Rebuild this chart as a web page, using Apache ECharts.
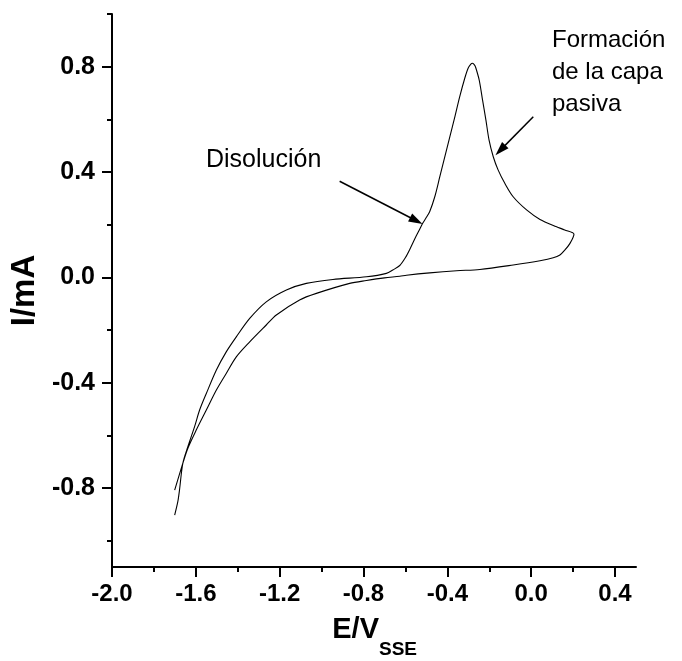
<!DOCTYPE html>
<html>
<head>
<meta charset="utf-8">
<script src="https://cdn.jsdelivr.net/npm/echarts@6/dist/echarts.min.js"></script>
<style>
html,body{margin:0;padding:0;background:#fff;}
#chart{width:682px;height:661px;}
</style>
</head>
<body>
<div id="chart"></div>
<script>
// Forward (anodic) sweep: E (V vs SSE) and I (mA)
const forwardE = [-1.701,-1.686,-1.678,-1.662,-1.638,-1.606,-1.582,-1.550,-1.502,-1.455,-1.407,-1.343,-1.264,-1.168,-1.073,-0.946,-0.786,-0.691,-0.660,-0.627,-0.600,-0.580,-0.550,-0.532,-0.517,-0.500,-0.484,-0.460,-0.436,-0.412,-0.388,-0.364,-0.341,-0.317,-0.301,-0.288,-0.280,-0.270,-0.264,-0.248,-0.232,-0.216,-0.201,-0.181,-0.158,-0.126,-0.086,-0.022,0.042,0.121,0.160,0.204];
const forwardI = [-0.903,-0.852,-0.808,-0.706,-0.643,-0.567,-0.504,-0.441,-0.352,-0.283,-0.226,-0.156,-0.093,-0.048,-0.023,-0.008,0.002,0.015,0.028,0.045,0.075,0.105,0.155,0.183,0.206,0.228,0.250,0.306,0.382,0.458,0.534,0.610,0.686,0.756,0.794,0.810,0.813,0.806,0.795,0.749,0.673,0.597,0.521,0.458,0.408,0.357,0.306,0.256,0.220,0.192,0.180,0.164];
// Reverse (cathodic) sweep
const reverseE = [0.185,0.161,0.137,0.105,0.042,-0.086,-0.245,-0.356,-0.484,-0.595,-0.627,-0.700,-0.786,-0.866,-1.025,-1.105,-1.216,-1.264,-1.343,-1.407,-1.455,-1.502,-1.550,-1.598,-1.638,-1.662,-1.701];
const reverseI = [0.129,0.104,0.085,0.074,0.063,0.047,0.030,0.025,0.017,0.008,0.004,-0.002,-0.012,-0.023,-0.061,-0.086,-0.143,-0.181,-0.245,-0.302,-0.365,-0.428,-0.504,-0.580,-0.649,-0.706,-0.808];

const xMajorTicks = [-2.0,-1.6,-1.2,-0.8,-0.4,0.0,0.4];
const xMinorTicks = [-1.8,-1.4,-1.0,-0.6,-0.2,0.2];
const yMajorTicks = [-0.8,-0.4,0.0,0.4,0.8];
const yMinorTicks = [-1.0,-0.6,-0.2,0.2,0.6,1.0];

const arrowDisolucion = [[-0.914,0.365],[-0.548,0.215]];
const arrowPasiva = [[0.010,0.610],[-0.147,0.483]];

const FONT = '"Liberation Sans", Arial, sans-serif';

const curve = [];
forwardE.forEach((e,i)=>curve.push([e, forwardI[i]]));
reverseE.forEach((e,i)=>curve.push([e, reverseI[i]]));

const chart = echarts.init(document.getElementById('chart'), null, {renderer:'canvas'});
const fmt = v => (Math.abs(v) < 1e-9 ? 0 : v).toFixed(1);

const axisCommonX = {type:'value', min:-2.0, max:0.5, gridIndex:0, position:'bottom', splitLine:{show:false}};
const axisCommonY = {type:'value', min:-1.1, max:1.0, gridIndex:0, position:'left', splitLine:{show:false}};

chart.setOption({
  animation:false,
  backgroundColor:'#fff',
  grid:{left:112, top:14, width:524, height:553, containLabel:false},
  xAxis:[
    Object.assign({}, axisCommonX, {
      axisLine:{show:true, onZero:false, lineStyle:{color:'#000', width:2}},
      axisTick:{show:true, inside:false, length:10, lineStyle:{color:'#000', width:2}, customValues:xMajorTicks},
      axisLabel:{show:true, margin:15, color:'#000', fontFamily:FONT, fontWeight:'bold', fontSize:24, customValues:xMajorTicks, formatter:fmt}
    }),
    Object.assign({}, axisCommonX, {
      axisLine:{show:false, onZero:false},
      axisTick:{show:true, inside:false, length:5, lineStyle:{color:'#000', width:2}, customValues:xMinorTicks},
      axisLabel:{show:false}
    })
  ],
  yAxis:[
    Object.assign({}, axisCommonY, {
      axisLine:{show:true, onZero:false, lineStyle:{color:'#000', width:2}},
      axisTick:{show:true, inside:false, length:10, lineStyle:{color:'#000', width:2}, customValues:yMajorTicks},
      axisLabel:{show:true, margin:17, color:'#000', fontFamily:FONT, fontWeight:'bold', fontSize:25, customValues:yMajorTicks, formatter:fmt},
      name:'I/mA',
      nameLocation:'middle',
      nameRotate:90,
      nameGap:66,
      nameTextStyle:{color:'#000', fontFamily:FONT, fontWeight:'bold', fontSize:33}
    }),
    Object.assign({}, axisCommonY, {
      axisLine:{show:false, onZero:false},
      axisTick:{show:true, inside:false, length:5, lineStyle:{color:'#000', width:2}, customValues:yMinorTicks},
      axisLabel:{show:false}
    })
  ],
  series:[{
    type:'line',
    xAxisIndex:0, yAxisIndex:0,
    data:curve,
    showSymbol:false,
    symbol:'none',
    smooth:0.3,
    lineStyle:{color:'#000', width:1.1},
    markLine:{
      silent:true,
      symbol:['none','triangle'],
      symbolSize:[9,14],
      label:{show:false},
      lineStyle:{color:'#000', width:1.5, type:'solid'},
      data:[
        [{coord:arrowDisolucion[0]},{coord:arrowDisolucion[1]}],
        [{coord:arrowPasiva[0]},{coord:arrowPasiva[1]}]
      ]
    }
  }],
  graphic:[
    {type:'text', x:379, y:644, style:{text:'E/V', font:'bold 29px "Liberation Sans", Arial, sans-serif', fill:'#000', align:'right', verticalAlign:'bottom'}},
    {type:'text', x:379, y:659.5, style:{text:'SSE', font:'bold 19px "Liberation Sans", Arial, sans-serif', fill:'#000', align:'left', verticalAlign:'bottom'}},
    {type:'text', left:206, top:148, style:{text:'Disolución', font:'25px "Liberation Sans", Arial, sans-serif', fill:'#000'}},
    {type:'text', left:552, top:24, style:{text:'Formación\nde la capa\npasiva', font:'24px "Liberation Sans", Arial, sans-serif', fill:'#000', lineHeight:32}}
  ]
});
</script>
</body>
</html>
